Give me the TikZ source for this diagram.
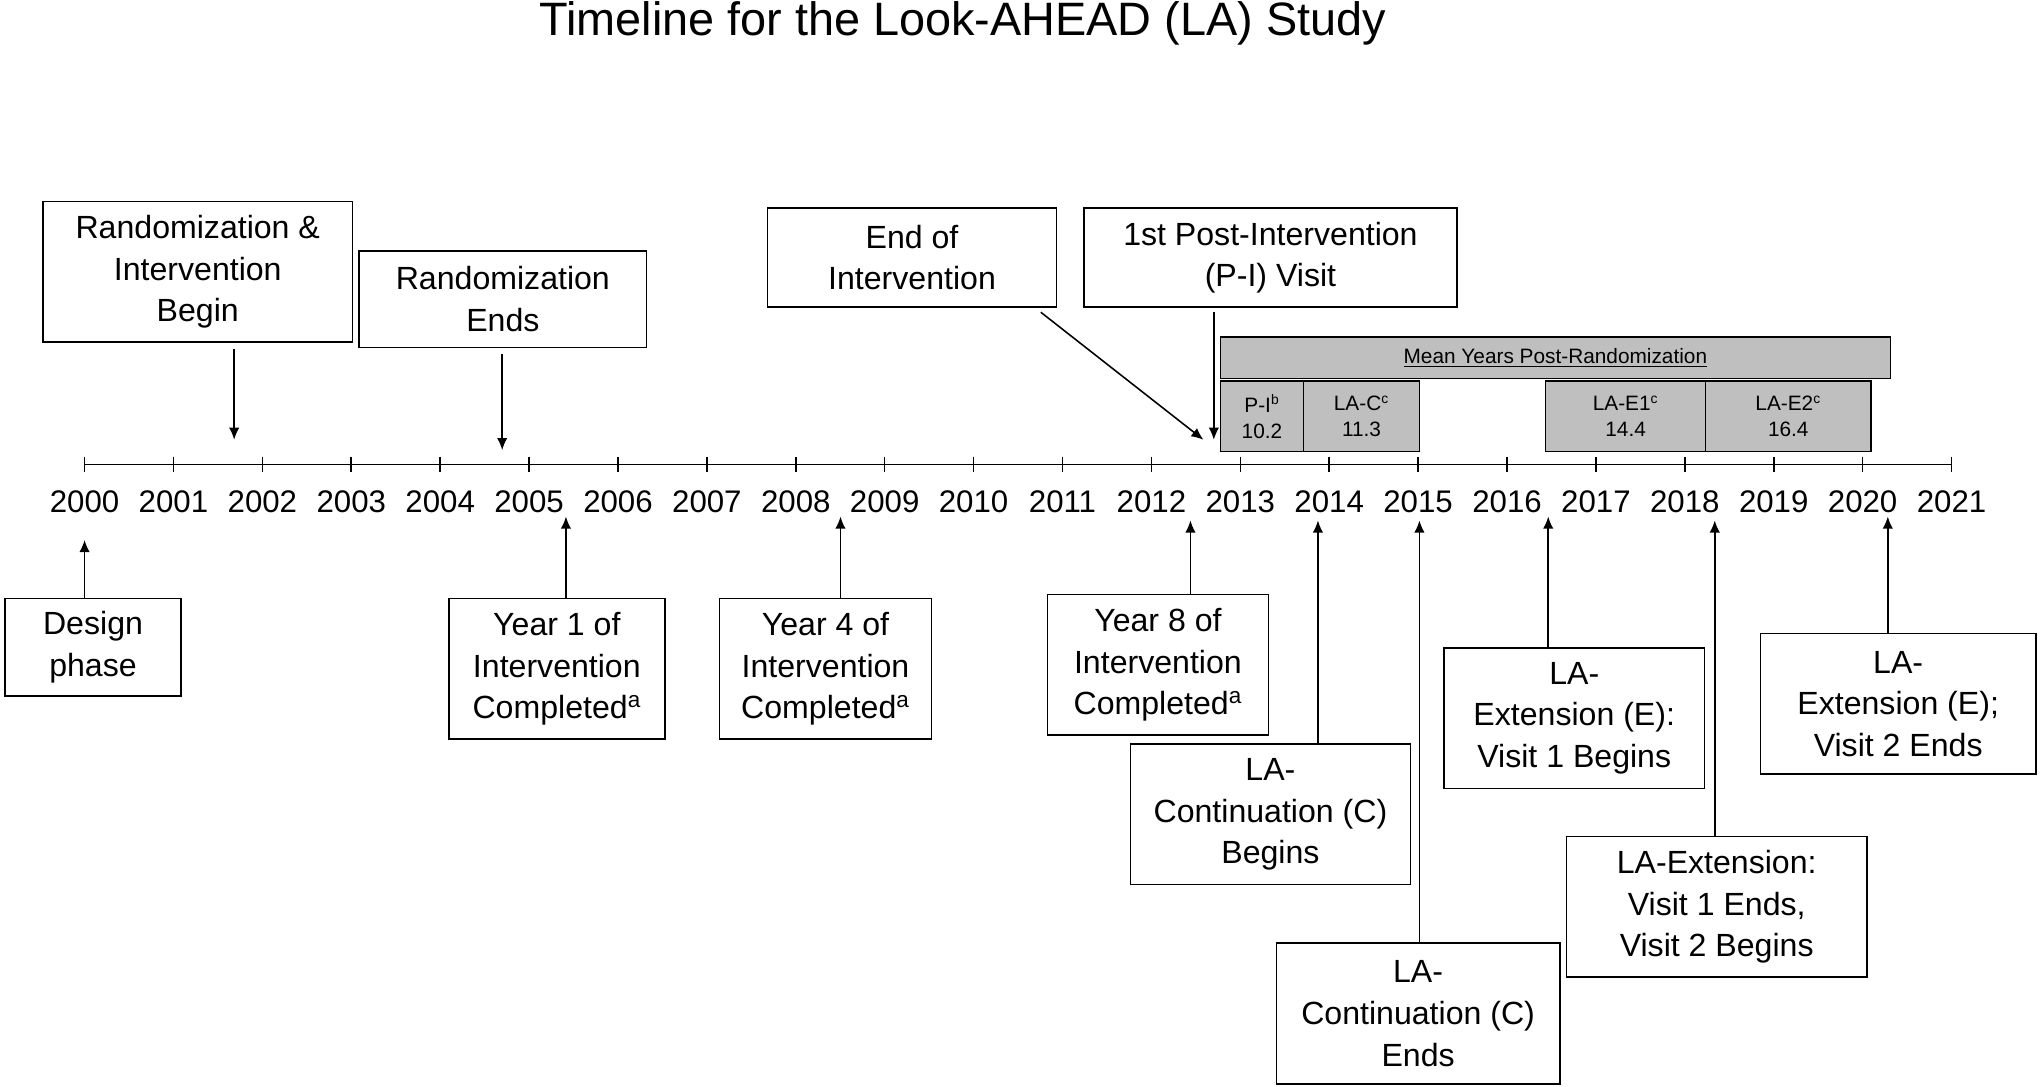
\documentclass[tikz,border=0pt]{standalone}
\usepackage{fontspec}
\setmainfont{Liberation Sans}
\usetikzlibrary{arrows.meta}
\begin{document}
\begin{tikzpicture}[x=0.75pt,y=-0.75pt,
 box/.style={draw,line width=0.9pt,align=center,inner sep=0pt,font=\fontsize{18.5}{24}\selectfont},
 gbox/.style={draw,line width=0.9pt,fill=gray!50,align=center,inner sep=0pt,font=\fontsize{12}{15}\selectfont},
 arr/.style={line width=0.9pt,-{Latex[length=7pt,width=6pt]}},
 ln/.style={line width=0.9pt}]
\useasboundingbox (0,0) rectangle (1568,835);
\node[font=\fontsize{27}{30}\selectfont] (title) at (740,18) {Timeline for the Look-AHEAD (LA) Study};
% axis
\draw[ln] (65,357) coordinate (a0) -- (1500,357) coordinate (a1);
\foreach \i in {0,...,21}{
 \pgfmathsetmacro\xx{65+\i*68.333}
 \draw[ln] (\xx,351) -- (\xx,363);
 \pgfmathtruncatemacro\yr{2000+\i}
 \node[font=\fontsize{18}{20}\selectfont] (y\i) at (\xx,386) {\yr};
}
% top boxes
\node[box,minimum width=238*0.75pt,minimum height=108*0.75pt] (rib) at (152,209) {Randomization \&\\Intervention\\Begin};
\node[box,minimum width=221*0.75pt,minimum height=74*0.75pt] (re) at (386.5,230) {Randomization\\Ends};
\node[box,minimum width=222*0.75pt,minimum height=76*0.75pt] (eoi) at (701,198) {End of\\Intervention};
\node[box,minimum width=287*0.75pt,minimum height=76*0.75pt] (piv) at (976.5,198) {1st Post-Intervention\\(P-I) Visit};
\coordinate (t1) at (180,338); \draw[arr] (180,268) -- (t1);
\coordinate (t2) at (386,346); \draw[arr] (386,272) -- (t2);
\coordinate (t3) at (925,338); \draw[arr] (800,240) -- (t3);
\coordinate (t4) at (933,338); \draw[arr] (933,240) -- (t4);
% gray
\node[gbox,minimum width=515*0.75pt,minimum height=32*0.75pt] (mean) at (1195.5,275) {\underline{Mean Years Post-Randomization}};
\node[gbox,minimum width=64*0.75pt,minimum height=54*0.75pt] (g1) at (970,320) {P-I\textsuperscript{b}\\10.2};
\node[gbox,minimum width=89*0.75pt,minimum height=54*0.75pt] (g2) at (1046.5,320) {LA-C\textsuperscript{c}\\11.3};
\node[gbox,minimum width=123*0.75pt,minimum height=54*0.75pt] (g3) at (1249.5,320) {LA-E1\textsuperscript{c}\\14.4};
\node[gbox,minimum width=127*0.75pt,minimum height=54*0.75pt] (g4) at (1374.5,320) {LA-E2\textsuperscript{c}\\16.4};
% bottom boxes
\node[box,minimum width=135*0.75pt,minimum height=75*0.75pt] (dp) at (71.5,497.5) {Design\\phase};
\node[box,minimum width=166*0.75pt,minimum height=108*0.75pt] (y1) at (428,514) {Year 1 of\\Intervention\\Completed\textsuperscript{a}};
\node[box,minimum width=163*0.75pt,minimum height=108*0.75pt] (y4) at (634.5,514) {Year 4 of\\Intervention\\Completed\textsuperscript{a}};
\node[box,minimum width=170*0.75pt,minimum height=108*0.75pt] (y8) at (890,511) {Year 8 of\\Intervention\\Completed\textsuperscript{a}};
\node[box,minimum width=215*0.75pt,minimum height=108*0.75pt] (lcb) at (976.5,626) {LA-\\Continuation (C)\\Begins};
\node[box,minimum width=218*0.75pt,minimum height=108*0.75pt] (lce) at (1090,779) {LA-\\Continuation (C)\\Ends};
\node[box,minimum width=200*0.75pt,minimum height=108*0.75pt] (le1) at (1210,552) {LA-\\Extension (E):\\Visit 1 Begins};
\node[box,minimum width=231*0.75pt,minimum height=108*0.75pt] (le2) at (1319.5,697) {LA-Extension:\\Visit 1 Ends,\\Visit 2 Begins};
\node[box,minimum width=212*0.75pt,minimum height=108*0.75pt] (le3) at (1459,541) {LA-\\Extension (E);\\Visit 2 Ends};
\coordinate (b1) at (65,415); \draw[arr] (dp.north -| b1) -- (b1);
\coordinate (b2) at (435,397); \draw[arr] (y1.north -| b2) -- (b2);
\coordinate (b3) at (646,397); \draw[arr] (y4.north -| b3) -- (b3);
\coordinate (b4) at (915,400); \draw[arr] (y8.north -| b4) -- (b4);
\coordinate (b5) at (1013,400); \draw[arr] (lcb.north -| b5) -- (b5);
\coordinate (b6) at (1091,400); \draw[arr] (lce.north -| b6) -- (b6);
\coordinate (b7) at (1190,397); \draw[arr] (le1.north -| b7) -- (b7);
\coordinate (b8) at (1318,400); \draw[arr] (le2.north -| b8) -- (b8);
\coordinate (b9) at (1451,397); \draw[arr] (le3.north -| b9) -- (b9);
\end{tikzpicture}
\end{document}
